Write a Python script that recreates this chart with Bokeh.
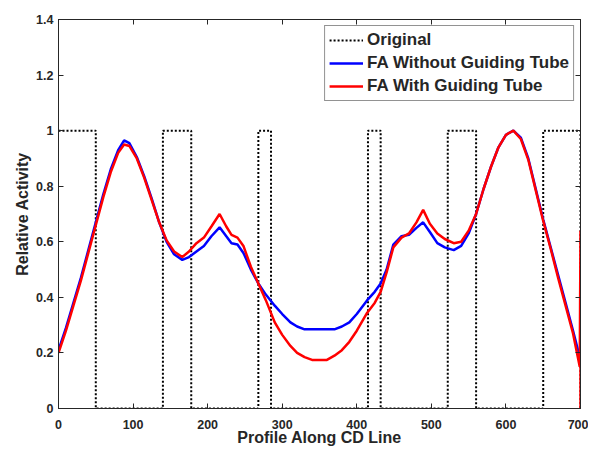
from bokeh.plotting import figure
from bokeh.models import (LinearAxis, FixedTicker, CustomJSTickFormatter, Range1d,
                          Legend, LegendItem, CustomLabelingPolicy)
from bokeh.embed import file_html
from bokeh.resources import INLINE

# ---------------- data ----------------
orig_x = [0, 50, 50, 140, 140, 178, 178, 268, 268, 285, 285, 415, 415, 432, 432,
          522, 522, 560, 560, 650, 650, 700, 700]
orig_y = [1, 1, 0, 0, 1, 1, 0, 0, 1, 1, 0, 0, 1, 1, 0,
          0, 1, 1, 0, 0, 1, 1, 0]

fa_x = [0, 10, 20, 30, 40, 50, 60, 70, 80, 88, 95, 105, 115, 125, 135, 145, 155,
        166, 175, 185, 195, 205, 216, 225, 232, 240, 248, 258, 268, 278, 290, 300,
        311, 320, 330, 340, 350, 360, 370, 380, 390, 400, 414, 424, 432, 440, 449,
        460, 470, 480, 489, 498, 508, 518, 530, 540, 550, 560, 570, 580, 590, 600,
        610, 620, 630, 640, 650, 660, 670, 680, 690, 699]

fa_without = [0.21, 0.29, 0.38, 0.47, 0.57, 0.67, 0.77, 0.86, 0.93, 0.965, 0.955,
              0.905, 0.835, 0.755, 0.67, 0.60, 0.555, 0.535, 0.545, 0.565, 0.585,
              0.62, 0.652, 0.62, 0.595, 0.59, 0.56, 0.50, 0.45, 0.41, 0.37, 0.34,
              0.31, 0.295, 0.285, 0.285, 0.285, 0.285, 0.285, 0.295, 0.31, 0.34,
              0.39, 0.42, 0.45, 0.50, 0.59, 0.62, 0.625, 0.65, 0.67, 0.635, 0.595,
              0.58, 0.57, 0.585, 0.63, 0.70, 0.79, 0.87, 0.94, 0.985, 1.0, 0.975,
              0.90, 0.79, 0.68, 0.58, 0.48, 0.38, 0.28, 0.185]

fa_with_x = fa_x + [700, 700]
fa_with = [0.20, 0.28, 0.37, 0.46, 0.56, 0.66, 0.76, 0.85, 0.92, 0.95, 0.945,
           0.90, 0.83, 0.75, 0.67, 0.605, 0.565, 0.545, 0.565, 0.595, 0.615,
           0.655, 0.70, 0.655, 0.625, 0.615, 0.585, 0.51, 0.45, 0.39, 0.31, 0.265,
           0.225, 0.20, 0.185, 0.175, 0.175, 0.175, 0.19, 0.21, 0.24, 0.28,
           0.345, 0.38, 0.42, 0.49, 0.58, 0.615, 0.63, 0.67, 0.715, 0.665, 0.63,
           0.61, 0.595, 0.60, 0.64, 0.70, 0.79, 0.87, 0.94, 0.985, 1.0, 0.97,
           0.895, 0.785, 0.675, 0.575, 0.47, 0.37, 0.27, 0.15, 0.64, 0.0]

x_ticks = [0, 100, 200, 300, 400, 500, 600, 700]
y_ticks = [0, 0.2, 0.4, 0.6, 0.8, 1.0, 1.2, 1.4]

# ---------------- figure ----------------
FONT = "Liberation Sans"
TXT = "#262626"

p = figure(width=588, height=450, output_backend="svg", toolbar_location=None,
           x_range=Range1d(0, 700), y_range=Range1d(0, 1.4),
           min_border_left=58, min_border_right=8, min_border_top=19,
           min_border_bottom=42)
p.grid.visible = False
p.outline_line_color = TXT
p.outline_line_width = 1
p.background_fill_color = "white"
p.border_fill_color = "white"

r_orig = p.line(orig_x, orig_y, line_color="black", line_width=2, line_dash="2 2")
r_blue = p.line(fa_x, fa_without, line_color="#0000ff", line_width=2.5)
r_red = p.line(fa_with_x, fa_with, line_color="#ff0000", line_width=2.5)

yfmt = CustomJSTickFormatter(code="return tick.toFixed(1).replace(/\\.0$/, '');")
no_labels = CustomLabelingPolicy(code="for (const i of indices) { indices.unset(i) }\nreturn indices")

def style_axis(ax, ticks, size="12.5px"):
    ax.ticker = FixedTicker(ticks=ticks)
    ax.axis_line_color = TXT
    ax.major_tick_line_color = TXT
    ax.major_tick_in = 5
    ax.major_tick_out = 0
    ax.minor_tick_line_color = None
    ax.major_label_text_font = FONT
    ax.major_label_text_font_style = "bold"
    ax.major_label_text_color = TXT
    ax.major_label_text_font_size = size
    ax.axis_label_text_font = FONT
    ax.axis_label_text_font_style = "bold"
    ax.axis_label_text_color = TXT
    ax.axis_label_text_font_size = "16px"

xa = p.xaxis[0]
style_axis(xa, x_ticks)
xa.axis_label = "Profile Along CD Line"
xa.major_label_standoff = 11
xa.axis_label_standoff = -3

ya = p.yaxis[0]
style_axis(ya, y_ticks)
ya.formatter = yfmt
ya.axis_label = "Relative Activity"
ya.major_label_standoff = 5
ya.axis_label_standoff = 2

top = LinearAxis(major_label_policy=no_labels)
style_axis(top, x_ticks, "0px")
top.major_label_standoff = 0
p.add_layout(top, "above")

right = LinearAxis(major_label_policy=no_labels)
style_axis(right, y_ticks, "0px")
right.major_label_standoff = 0
p.add_layout(right, "right")

legend = Legend(items=[
    LegendItem(label="Original", renderers=[r_orig]),
    LegendItem(label="FA Without Guiding Tube", renderers=[r_blue]),
    LegendItem(label="FA With Guiding Tube", renderers=[r_red]),
], location="top_right")
legend.margin = 6
legend.padding = 4
legend.spacing = 3
legend.glyph_width = 34
legend.glyph_height = 18
legend.label_height = 18
legend.label_standoff = 4
legend.label_text_font = FONT
legend.label_text_font_style = "bold"
legend.label_text_font_size = "17px"
legend.label_text_color = TXT
legend.border_line_color = TXT
legend.border_line_width = 1
legend.background_fill_color = "white"
legend.background_fill_alpha = 1.0
p.add_layout(legend, "center")

open("out.html", "w").write(file_html(p, INLINE))
